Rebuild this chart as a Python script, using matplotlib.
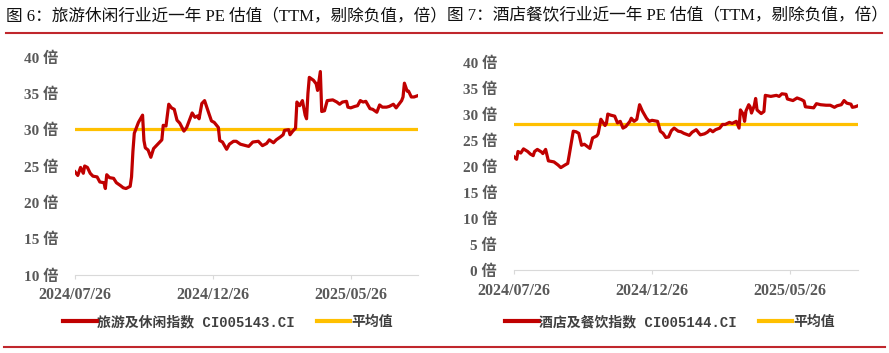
import matplotlib.pyplot as plt
from matplotlib.lines import Line2D

plt.rcParams['font.family'] = ['Liberation Serif', 'Noto Sans CJK SC', 'DejaVu Sans']

# trading-day index (0 = 2024/07/26) and PE values
travel_idx = [0, 2, 4, 6, 7, 9, 11, 13, 16, 18, 21, 22, 23, 25, 28, 30, 33, 35, 37, 40,
              41, 42, 43, 45, 46, 49, 50, 51, 53, 55, 57, 59, 61, 63, 64, 66, 68, 70, 72, 74,
              76, 79, 81, 83, 85, 87, 89, 90, 92, 94, 97, 99, 101, 104, 105, 107, 110, 112, 115, 117,
              120, 122, 126, 129, 133, 136, 139, 141, 144, 146, 149, 151, 152, 155, 156, 158, 160, 161, 163, 165,
              167, 168, 169, 170, 173, 175, 176, 178, 179, 181, 183, 187, 190, 192, 194, 197, 198, 200, 203, 205,
              207, 209, 211, 214, 216, 219, 221, 223, 226, 228, 231, 233, 235, 237, 238, 239, 241, 242, 244, 246,
              249]
travel_pe = [24.2, 23.7, 24.8, 24.0, 25.0, 24.8, 24.0, 23.6, 23.5, 22.8, 22.7, 21.9, 23.8, 23.4, 23.3, 22.7, 22.3, 22.0, 21.9, 22.2,
             23.5, 27.0, 29.5, 30.5, 31.0, 32.0, 28.5, 27.5, 27.2, 26.2, 27.4, 27.8, 28.2, 28.6, 30.6, 30.5, 33.5, 33.0, 32.8, 31.3,
             30.9, 29.8, 30.3, 31.3, 32.3, 31.7, 31.9, 31.5, 33.6, 34.0, 32.3, 31.2, 31.0, 30.3, 28.5, 28.3, 27.3, 28.0, 28.4, 28.4,
             28.0, 27.9, 27.7, 28.3, 28.4, 27.8, 28.1, 28.6, 28.2, 28.6, 29.0, 29.3, 29.9, 30.0, 29.3, 29.8, 30.2, 33.8, 33.3, 34.0,
             32.0, 31.5, 35.0, 37.2, 36.8, 36.3, 35.4, 38.0, 32.5, 32.6, 34.0, 34.1, 33.8, 33.5, 33.8, 33.9, 33.1, 33.0, 33.2, 33.3,
             34.0, 33.8, 33.9, 32.9, 32.8, 32.4, 33.4, 33.1, 33.1, 33.2, 33.5, 33.0, 33.5, 34.0, 34.5, 36.4, 35.3, 35.3, 34.5, 34.5,
             34.7]
travel_avg = 30.1

hotel_idx = [0, 2, 3, 5, 7, 10, 12, 14, 15, 17, 20, 21, 23, 25, 27, 29, 32, 34, 37, 39,
             40, 43, 45, 47, 49, 51, 53, 55, 57, 60, 61, 62, 63, 66, 67, 68, 70, 73, 75, 77,
             79, 81, 84, 85, 87, 89, 91, 93, 96, 98, 100, 104, 106, 108, 110, 112, 114, 116, 119, 121,
             123, 127, 129, 132, 134, 135, 138, 140, 142, 144, 146, 149, 151, 153, 156, 158, 161, 163, 164, 166,
             167, 168, 170, 171, 172, 174, 175, 176, 179, 181, 182, 186, 190, 192, 194, 197, 198, 202, 205, 208,
             210, 211, 214, 217, 219, 222, 226, 229, 232, 234, 237, 239, 241, 244, 245, 247, 249]
hotel_pe = [21.8, 21.3, 22.8, 22.5, 23.3, 22.8, 22.3, 22.0, 22.8, 23.2, 22.7, 22.4, 23.2, 21.0, 20.9, 20.8, 20.2, 19.7, 20.2, 20.5,
            22.0, 26.7, 26.6, 26.3, 24.0, 24.2, 23.8, 23.4, 25.4, 25.8, 26.2, 27.6, 29.0, 27.8, 28.2, 30.0, 29.8, 29.6, 28.3, 28.6,
            27.3, 27.6, 28.6, 29.2, 28.6, 29.0, 31.8, 30.6, 29.2, 28.6, 28.8, 28.6, 26.7, 26.3, 25.5, 25.6, 26.8, 27.3, 26.7, 26.6,
            26.3, 25.9, 26.5, 27.0, 26.3, 26.0, 26.2, 26.5, 27.0, 26.6, 27.0, 27.3, 28.0, 28.0, 28.4, 28.2, 28.6, 27.3, 30.8, 30.0,
            28.6, 30.6, 31.8, 31.4, 30.2, 31.6, 33.0, 30.8, 30.1, 30.5, 33.6, 33.4, 33.6, 33.4, 33.9, 33.8, 32.9, 32.6, 33.1, 32.8,
            32.5, 31.4, 31.3, 31.2, 32.0, 31.8, 31.7, 31.7, 31.3, 31.6, 31.8, 32.6, 32.1, 31.9, 31.3, 31.4, 31.6]
hotel_avg = 28.1

tick_pos = [0, 100, 200]
tick_labels = ['2024/07/26', '2024/12/26', '2025/05/26']

RED = '#C00000'
GOLD = '#FFC000'
GRAY = '#595959'
HEAD = '#C0272D'

fig = plt.figure(figsize=(8.89, 3.53), dpi=100)


def draw_panel(rect, idx, pe, avg, ylim, yticks, name, leg_x):
    ax = fig.add_axes(rect)
    ax.plot(idx, pe, color=RED, lw=2.3, solid_joinstyle='round', zorder=3)
    ax.axhline(avg, color=GOLD, lw=2.3, zorder=2)
    ax.set_xlim(0, 249)
    ax.set_ylim(*ylim)
    ax.set_yticks(yticks)
    ax.set_yticklabels([f'{v} 倍' for v in yticks])
    ax.set_xticks(tick_pos)
    ax.set_xticklabels(tick_labels)
    for s in ['top', 'right', 'left']:
        ax.spines[s].set_visible(False)
    ax.spines['bottom'].set_color('#D9D9D9')
    ax.tick_params(axis='y', length=0, pad=12, labelsize=11, labelcolor=GRAY)
    ax.tick_params(axis='x', length=3, color='#D9D9D9', pad=6, labelsize=11.5, labelcolor=GRAY)
    for t in ax.get_xticklabels() + ax.get_yticklabels():
        t.set_fontweight('bold')
    handles = [Line2D([], [], color=RED, lw=3), Line2D([], [], color=GOLD, lw=3)]
    leg = ax.legend(handles, [name, '平均值'], ncol=2, frameon=False, loc='center',
                    bbox_to_anchor=(leg_x, 0.088), bbox_transform=fig.transFigure,
                    handlelength=2.4, handletextpad=0.05, columnspacing=1.6,
                    prop={'family': ['Liberation Mono', 'Noto Sans CJK SC'], 'size': 10, 'weight': 'bold'})
    for t in leg.get_texts():
        t.set_color('#404040')
    return ax


draw_panel([0.0844, 0.221, 0.386, 0.6175], travel_idx, travel_pe, travel_avg,
           (10, 40), [10, 15, 20, 25, 30, 35, 40], '旅游及休闲指数 CI005143.CI', 228 / 889)
draw_panel([0.578, 0.2351, 0.387, 0.589], hotel_idx, hotel_pe, hotel_avg,
           (0, 40), [0, 5, 10, 15, 20, 25, 30, 35, 40], '酒店及餐饮指数 CI005144.CI', 670 / 889)

fig.text(6 / 889, 1 - 16 / 353, '图 6：旅游休闲行业近一年 PE 估值（TTM，剔除负值，倍）',
         fontsize=12, va='center', ha='left', color='#111111')
fig.text(447 / 889, 1 - 16 / 353, '图 7：酒店餐饮行业近一年 PE 估值（TTM，剔除负值，倍）',
         fontsize=12, va='center', ha='left', color='#111111')

# red rules under the titles and at the bottom
fig.add_artist(Line2D([6 / 889, 882 / 889], [1 - 33 / 353] * 2, color=HEAD, lw=1.5))
fig.add_artist(Line2D([4 / 889, 885 / 889], [1 - 347 / 353] * 2, color=HEAD, lw=1.5))

fig.savefig('out.png', dpi=100)
